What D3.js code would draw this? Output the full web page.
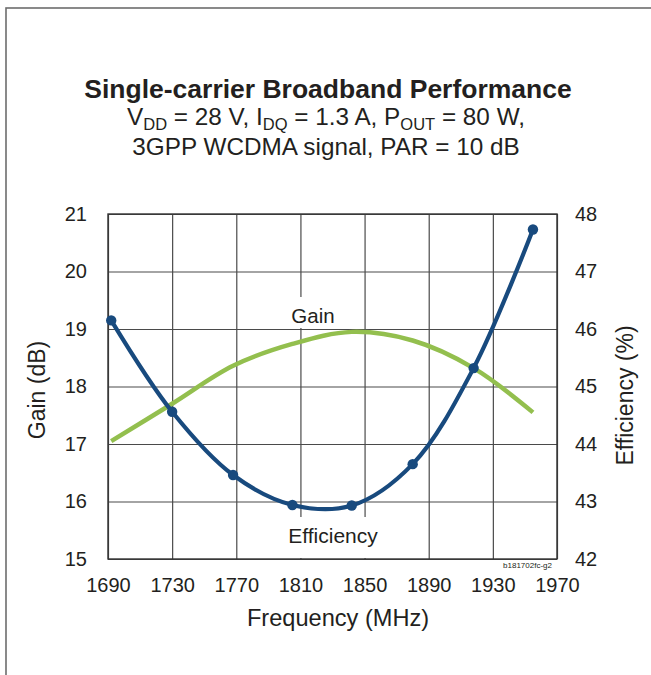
<!DOCTYPE html>
<html><head><meta charset="utf-8">
<script src="https://cdn.jsdelivr.net/npm/d3@7"></script>
<style>
body{margin:0;background:#fff}
svg{display:block}
text{font-family:"Liberation Sans",Arial,Helvetica,sans-serif;fill:#231f20}
</style>
</head><body><svg id="chart" width="651" height="675"></svg>
<script>
// ---- data ----
const freqTicks = [1690,1730,1770,1810,1850,1890,1930,1970];
const gainTicks = [15,16,17,18,19,20,21];
const effTicks  = [42,43,44,45,46,47,48];
const effFreq   = [1692,1730,1768,1805,1842,1880,1918,1955];
const effValues = [46.15,44.56,43.46,42.94,42.93,43.65,45.32,47.73];
const gainFreq  = [1692,1730,1768,1805,1842,1880,1918,1955];
const gainValues= [17.05,17.70,18.36,18.74,18.95,18.80,18.32,17.55];

const svg = d3.select("#chart");
const L = 108, R = 557, T = 214, B = 559;

const x = d3.scaleLinear().domain([1690,1970]).range([L,R]);
const yG = d3.scaleLinear().domain([15,21]).range([B,T]);
const yE = d3.scaleLinear().domain([42,48]).range([B,T]);

// outer border
svg.append("rect").attr("x",6).attr("y",8).attr("width",700).attr("height",700)
  .attr("fill","none").attr("stroke","#6d6d6d").attr("stroke-width",1.6);

// title
svg.append("text").attr("x",328).attr("y",98).attr("text-anchor","middle")
  .attr("font-size",26.5).attr("font-weight","bold").text("Single-carrier Broadband Performance");
const st = svg.append("text").attr("x",326).attr("y",125).attr("text-anchor","middle").attr("font-size",24.3);
st.append("tspan").text("V");
st.append("tspan").attr("font-size",16.5).attr("dy",5).text("DD");
st.append("tspan").attr("dy",-5).text(" = 28 V, I");
st.append("tspan").attr("font-size",16.5).attr("dy",5).text("DQ");
st.append("tspan").attr("dy",-5).text(" = 1.3 A, P");
st.append("tspan").attr("font-size",16.5).attr("dy",5).text("OUT");
st.append("tspan").attr("dy",-5).text(" = 80 W,");
svg.append("text").attr("x",326).attr("y",155).attr("text-anchor","middle")
  .attr("font-size",24.3).text("3GPP WCDMA signal, PAR = 10 dB");

// grid via axes
const gridColor = "#4a4a4a";
const gx = svg.append("g").attr("transform",`translate(0,${B})`)
  .call(d3.axisBottom(x).tickValues(freqTicks).tickSize(-(B-T)).tickFormat(""));
const gy = svg.append("g").attr("transform",`translate(${L},0)`)
  .call(d3.axisLeft(yG).tickValues(gainTicks).tickSize(-(R-L)).tickFormat(""));
[gx,gy].forEach(g=>{ g.select(".domain").remove(); g.selectAll("line").attr("stroke",gridColor).attr("stroke-width",1.2); });

// frame
svg.append("rect").attr("x",L).attr("y",T).attr("width",R-L).attr("height",B-T)
  .attr("fill","none").attr("stroke","#333").attr("stroke-width",1.4);

// label backgrounds (break gridlines)
svg.append("rect").attr("x",288).attr("y",297).attr("width",51).attr("height",31).attr("fill","#fff");
svg.append("rect").attr("x",285).attr("y",517).attr("width",96).attr("height",41).attr("fill","#fff");

// tick labels via axes
function styleTicks(g){ g.select(".domain").remove(); g.selectAll("line").remove(); g.selectAll("text").attr("font-size",20).attr("fill","#231f20").attr("font-family","Liberation Sans, Arial, sans-serif"); }
svg.append("g").attr("transform",`translate(0,${B})`)
  .call(d3.axisBottom(x).tickValues(freqTicks).tickSize(0).tickPadding(19).tickFormat(d3.format("d"))).call(styleTicks);
svg.append("g").attr("transform",`translate(${L},0)`)
  .call(d3.axisLeft(yG).tickValues(gainTicks).tickSize(0).tickPadding(21).tickFormat(d3.format("d"))).call(styleTicks);
svg.append("g").attr("transform",`translate(${R},0)`)
  .call(d3.axisRight(yE).tickValues(effTicks).tickSize(0).tickPadding(18).tickFormat(d3.format("d"))).call(styleTicks);

// axis titles
svg.append("text").attr("transform","translate(45,390) rotate(-90)").attr("text-anchor","middle")
  .attr("font-size",23).text("Gain (dB)");
svg.append("text").attr("transform","translate(633,395.5) rotate(-90)").attr("text-anchor","middle")
  .attr("font-size",23).text("Efficiency (%)");
svg.append("text").attr("x",338).attr("y",626).attr("text-anchor","middle")
  .attr("font-size",23.6).text("Frequency (MHz)");

// series
const gainData = gainFreq.map((f,i)=>({f, v:gainValues[i]}));
const effData = effFreq.map((f,i)=>({f, v:effValues[i]}));
svg.append("path").datum(gainData).attr("fill","none").attr("stroke","#93bf4e").attr("stroke-width",4.5)
  .attr("d", d3.line().x(d=>x(d.f)).y(d=>yG(d.v)).curve(d3.curveCatmullRom));
svg.append("path").datum(effData).attr("fill","none").attr("stroke","#184a7e").attr("stroke-width",4.2)
  .attr("d", d3.line().x(d=>x(d.f)).y(d=>yE(d.v)).curve(d3.curveCatmullRom));
svg.append("g").selectAll("circle").data(effData).join("circle")
  .attr("cx",d=>x(d.f)).attr("cy",d=>yE(d.v)).attr("r",5.2).attr("fill","#184a7e");

// series labels
svg.append("text").attr("x",313).attr("y",323).attr("text-anchor","middle").attr("font-size",20.5).text("Gain");
svg.append("text").attr("x",333).attr("y",542.5).attr("text-anchor","middle").attr("font-size",21).text("Efficiency");

// figure id
svg.append("text").attr("x",552).attr("y",567.5).attr("text-anchor","end").attr("font-size",8).attr("fill","#444").text("b181702fc-g2");
</script>
</body></html>
